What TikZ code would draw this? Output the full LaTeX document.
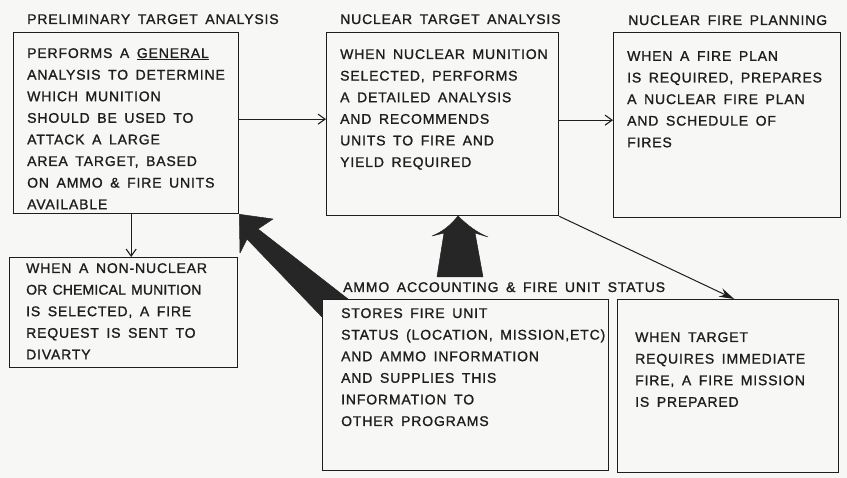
\documentclass[tikz,border=0pt]{standalone}
\usepackage{fontspec}
\setmainfont{Liberation Sans}[LetterSpace=6,WordSpace=1.6,FakeBold=1.2]
\newfontfamily\tightfont{Liberation Sans}[LetterSpace=1,WordSpace=1.3,FakeBold=1.2]
\usetikzlibrary{arrows.meta,calc}
\definecolor{paper}{HTML}{F7F7F6}
\definecolor{ink}{HTML}{1E1E1E}
\definecolor{blob}{HTML}{262626}
\tikzset{
  box/.style={draw=ink, line width=1.3pt, rectangle, inner sep=0pt, anchor=north west},
  body/.style={anchor=north west, inner sep=0pt, align=left, text=ink,
    font=\fontsize{14pt}{21.6pt}\selectfont},
  title/.style={anchor=base west, inner sep=0pt, text=ink,
    font=\fontsize{14pt}{21.6pt}\selectfont},
  flow/.style={draw=ink, line width=1.1pt, -{Straight Barb[length=7pt,width=10pt,line width=1.1pt]}},
  diag/.style={draw=ink, line width=1pt, -{Stealth[length=15pt,width=9pt]}},
  bigarrow/.style={fill=blob, draw=blob, line width=0.5pt, line join=round}
}
\begin{document}
\begin{tikzpicture}[x=1pt,y=-1pt]
\fill[paper] (0,0) rectangle (847,478);
\useasboundingbox (0,0) rectangle (847,478);

% boxes
\node[box, minimum width=225pt, minimum height=181pt] (prelim) at (13,32) {};
\node[box, minimum width=232pt, minimum height=183pt] (nta) at (326,32) {};
\node[box, minimum width=227pt, minimum height=185pt] (nfp) at (613,32) {};
\node[box, minimum width=228pt, minimum height=110pt] (nonnuc) at (9,257) {};
\node[box, minimum width=286pt, minimum height=171pt] (ammo) at (322,299) {};
\node[box, minimum width=221pt, minimum height=173pt] (imm) at (617,299) {};

% titles
\node[title] (t1) at (27,24) {PRELIMINARY TARGET ANALYSIS};
\node[title] (t2) at (340,24) {NUCLEAR TARGET ANALYSIS};
\node[title] (t3) at (628,25) {NUCLEAR FIRE PLANNING};
\node[title] (t5) at (343,292) {AMMO ACCOUNTING \& FIRE UNIT STATUS};

% texts
\node[body] (x1) at (27,48) {PERFORMS A \underline{GENERAL}\\ANALYSIS TO DETERMINE\\WHICH MUNITION\\SHOULD BE USED TO\\ATTACK A LARGE\\AREA TARGET, BASED\\ON AMMO \& FIRE UNITS\\AVAILABLE};
\node[body] (x2) at (340,49) {WHEN NUCLEAR MUNITION\\SELECTED, PERFORMS\\A DETAILED ANALYSIS\\AND RECOMMENDS\\UNITS TO FIRE AND\\YIELD REQUIRED};
\node[body] (x3) at (627,51) {WHEN A FIRE PLAN\\IS REQUIRED, PREPARES\\A NUCLEAR FIRE PLAN\\AND SCHEDULE OF\\FIRES};
\node[body] (x4) at (26,263) {WHEN A NON-NUCLEAR\\{\tightfont OR CHEMICAL MUNITION}\\IS SELECTED, A FIRE\\REQUEST IS SENT TO\\DIVARTY};
\node[body] (x5) at (341,308) {STORES FIRE UNIT\\STATUS (LOCATION, MISSION,ETC)\\AND AMMO INFORMATION\\AND SUPPLIES THIS\\INFORMATION TO\\OTHER PROGRAMS};
\node[body] (x6) at (635,332) {WHEN TARGET\\REQUIRES IMMEDIATE\\FIRE, A FIRE MISSION\\IS PREPARED};

% thin connectors
\draw[flow] ([yshift=4pt]prelim.east) -- ([yshift=4pt]prelim.east -| nta.west);
\draw[flow] ([yshift=4pt]nta.east) -- ([yshift=4pt]nta.east -| nfp.west);
\draw[flow] ([xshift=5pt]prelim.south) -- ([xshift=5pt]prelim.south |- nonnuc.north);
\draw[diag] (nta.south east) -- ([xshift=6pt]imm.north);

% big black arrows
\coordinate (tipA) at (prelim.south east);
\filldraw[bigarrow] (tipA) -- (273,219) -- (258,229) -- (348,299) -- (ammo.north west)
  -- (322,317) -- (247,239) -- (240,253) -- cycle;
\coordinate (tipB) at (458,216);
\filldraw[bigarrow] (tipB) .. controls (468,226) and (478,233) .. (488,237) -- (475,233)
  -- (483,277) -- (437,277) -- (444,233) -- (432,236) .. controls (442,232) and (450,226) .. (tipB) -- cycle;
\end{tikzpicture}
\end{document}
